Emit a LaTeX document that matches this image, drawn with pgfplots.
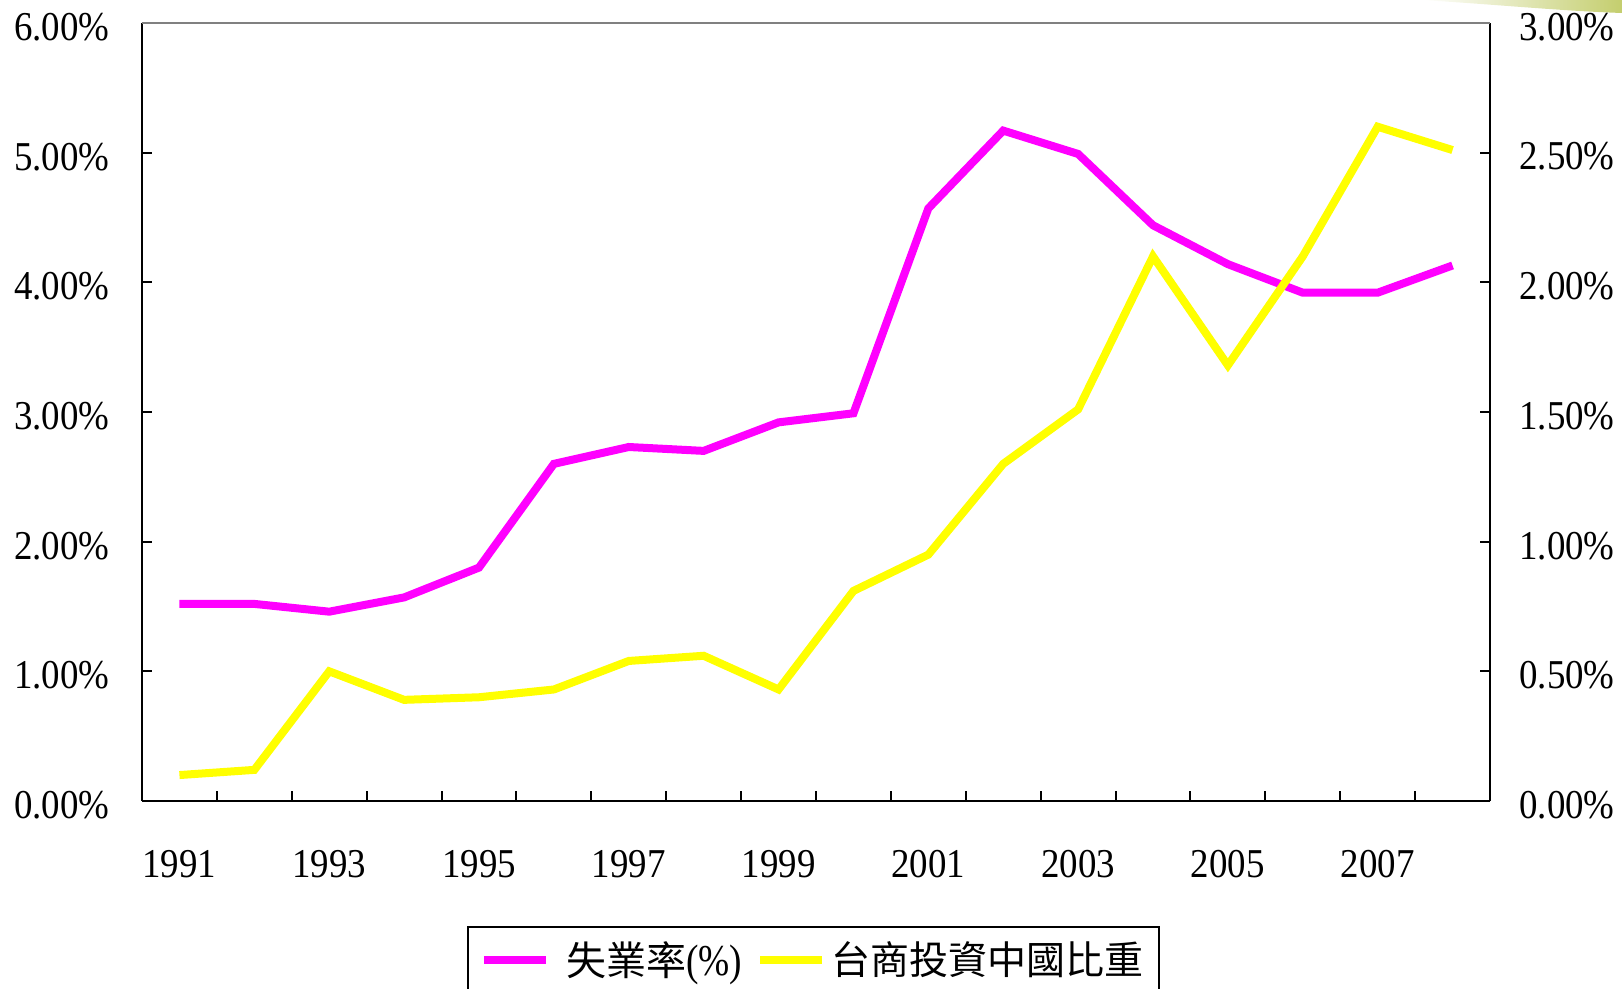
\documentclass[border=0pt]{standalone}
\usepackage{pgfplots}
\pgfplotsset{compat=1.18}
\usepackage{fontspec}
\setmainfont{Liberation Serif}[FakeStretch=0.9]
\newfontfamily\cjk{Noto Sans CJK TC}
\newfontfamily\lserif{Liberation Serif}[FakeStretch=0.85]
\definecolor{mag}{HTML}{FF00FF}
\definecolor{yel}{HTML}{FFFF00}
\definecolor{smudge}{RGB}{196,206,110}
\pgfplotstableread{
idx rate
0 1.52
1 1.52
2 1.46
3 1.57
4 1.80
5 2.60
6 2.73
7 2.70
8 2.92
9 2.99
10 4.57
11 5.17
12 4.99
13 4.44
14 4.14
15 3.92
16 3.92
17 4.13
}\unemp
\pgfplotstableread{
idx share
0 0.10
1 0.12
2 0.50
3 0.39
4 0.40
5 0.43
6 0.54
7 0.56
8 0.43
9 0.81
10 0.95
11 1.30
12 1.51
13 2.10
14 1.68
15 2.10
16 2.60
17 2.51
}\invest
\begin{document}
\begin{tikzpicture}
\pgfplotsset{
  common/.style={
    width=674pt, height=389pt, scale only axis,
    at={(0,0)}, anchor=south west,
    xmin=-0.5, xmax=17.5,
    tick align=inside,
    major tick length=5pt, minor tick length=5pt,
    every tick/.style={black, line width=1pt},
    tick label style={font=\fontsize{20.5}{24}\selectfont},
    /pgf/number format/assume math mode=true,
  }
}
\shade[left color=white, right color=smudge] (640pt,400.5pt) -- (740pt,400.5pt) -- (740pt,394pt) .. controls (710pt,395pt) and (680pt,398pt) .. (640pt,400.5pt) -- cycle;
\begin{axis}[common,
  axis x line*=bottom, axis y line*=left,
  axis line style={black, line width=1.3pt},
  ymin=0, ymax=6,
  ytick={0,1,2,3,4,5,6},
  yticklabels={0.00\%,1.00\%,2.00\%,3.00\%,4.00\%,5.00\%,6.00\%},
  yticklabel style={inner sep=0pt, xshift=-16pt, yshift=-2pt},
  xtick={0,2,...,16},
  xticklabels={1991,1993,1995,1997,1999,2001,2003,2005,2007},
  xticklabel style={inner sep=0pt, yshift=-24.5pt},
  major x tick style={draw=none},
  minor xtick={0.5,1.5,...,16.5},
  legend columns=2,
  legend style={at={(0.241,-0.1607)}, anchor=north west, draw=black, line width=1.2pt,
    inner xsep=6pt, inner ysep=5pt,
    font=\fontsize{20}{24}\selectfont,
    /tikz/every even column/.append style={column sep=5pt}},
  legend image code/.code={\draw[#1, line width=4pt] (0pt,0pt) -- (31pt,0pt); \path (37pt,0pt);},
]
\addplot[mag, line width=4pt] table[x=idx, y=rate] {\unemp};
\addlegendentry{{\cjk 失業率}{\lserif\fontsize{22}{24}\selectfont(\%)}}
\addlegendimage{yel, line width=4pt}
\addlegendentry{\hspace*{-5.5pt}{\cjk\fontsize{19.5}{24}\selectfont 台商投資中國比重}}
\end{axis}
\begin{axis}[common,
  axis x line=none, axis y line*=right,
  axis line style={black, line width=1.3pt},
  ymin=0, ymax=3,
  ytick={0,0.5,1,1.5,2,2.5,3},
  yticklabels={0.00\%,0.50\%,1.00\%,1.50\%,2.00\%,2.50\%,3.00\%},
  yticklabel style={inner sep=0pt, xshift=14.5pt, yshift=-2pt},
]
\addplot[yel, line width=4pt] table[x=idx, y=share] {\invest};
\draw[gray, line width=0.8pt] (rel axis cs:0,1) -- (rel axis cs:1,1);
\end{axis}
\pgfresetboundingbox
\useasboundingbox (-71pt,-94pt) rectangle (740pt,400.5pt);
\end{tikzpicture}
\end{document}
